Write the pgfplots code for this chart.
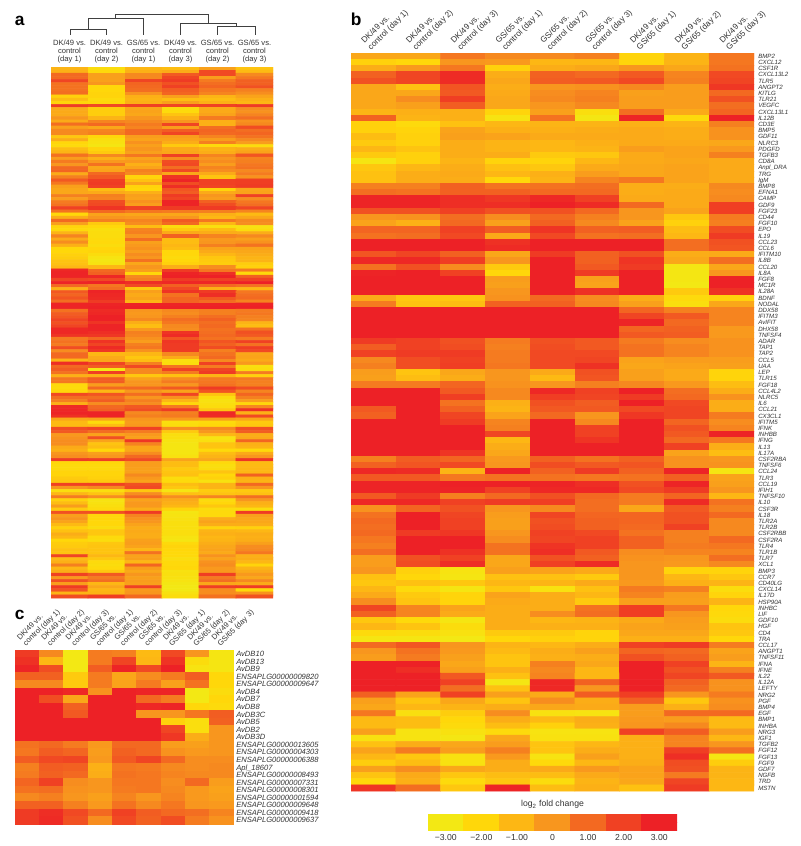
\documentclass[border=0pt]{standalone}
\usepackage{fontspec}
\setmainfont{Liberation Sans}
\usepackage{pgfplots}
\usepackage{pgfplotstable}
\pgfplotsset{compat=1.18}
\pgfplotsset{
  heatbase/.style={
    anchor=north west, scale only axis, y dir=reverse,
    colormap={heat}{rgb255=(243,232,20) rgb255=(255,215,10) rgb255=(253,183,20) rgb255=(248,150,30) rgb255=(243,105,33) rgb255=(240,65,35) rgb255=(237,33,38)},
    point meta min=-3, point meta max=3,
    axis line style={draw=none}, major tick length=0pt,
    xtick pos=upper, xticklabel pos=upper,
    tick label style={black!80},
  },
  rotlab/.style={
    xticklabels={{DK/49 vs.\\control (day 1)},{DK/49 vs.\\control (day 2)},{DK/49 vs.\\control (day 3)},{GS/65 vs.\\control (day 1)},{GS/65 vs.\\control (day 2)},{GS/65 vs.\\control (day 3)},{DK/49 vs.\\GS/65 (day 1)},{DK/49 vs.\\GS/65 (day 2)},{DK/49 vs.\\GS/65 (day 3)}},
  },
}
\begin{document}
\begin{tikzpicture}
\path[use as bounding box] (0pt,0pt) rectangle (600pt,-634.5pt);

% ---------- dendrogram ----------
\begin{axis}[at={(37.5pt,-7.5pt)}, anchor=north west, scale only axis, width=172.5pt, height=22.5pt,
  xmin=50, xmax=280, ymin=10, ymax=40, y dir=reverse, hide axis, clip=false]
\addplot[black!75, line width=0.7pt] coordinates {(70,35)(70,29.3)(106,29.3)(106,35)};
\addplot[black!75, line width=0.7pt] coordinates {(88,29.3)(88,18.3)(143,18.3)(143,35)};
\addplot[black!75, line width=0.7pt] coordinates {(115,18.3)(115,14)(208,14)(208,23.3)};
\addplot[black!75, line width=0.7pt] coordinates {(180,35)(180,23.3)(236,23.3)(236,26.7)};
\addplot[black!75, line width=0.7pt] coordinates {(217,35)(217,26.7)(255,26.7)(255,35)};
\end{axis}

% ---------- panel a ----------
\begin{axis}[heatbase, at={(38.25pt,-50.25pt)}, width=166.5pt, height=398.25pt,
  xmin=-0.5, xmax=5.5, ymin=-0.5, ymax=170.5, ytick=\empty,
  xtick={0,1,2,3,4,5},
  xticklabels={{DK/49 vs.\\control\\(day 1)},{DK/49 vs.\\control\\(day 2)},{GS/65 vs.\\control\\(day 1)},{DK/49 vs.\\control\\(day 3)},{GS/65 vs.\\control\\(day 2)},{GS/65 vs.\\control\\(day 3)}},
  xticklabel style={font=\fontsize{5.7}{6.2}\selectfont, align=center, anchor=south, yshift=1.5pt, inner ysep=1pt},
]
\addplot[matrix plot*, mesh/cols=6, point meta=explicit] table[row sep=crcr, header=false, x expr={mod(\coordindex,6)}, y expr={floor((\coordindex+0.5)/6)}, meta index=0] {
-0.9\\-2.3\\-1\\-1.2\\-0.3\\-1.4\\
-0.8\\-2.1\\-0.8\\-0.6\\1.8\\-1.1\\
1\\-0.3\\0.3\\1.4\\1.8\\0.3\\
1\\-0.3\\0.3\\1.9\\-0.2\\0.7\\
1.9\\-0.3\\1.9\\2.2\\0.6\\1.2\\
0.8\\0\\1.1\\1.6\\0.9\\1.2\\
0.8\\-2\\1\\2\\1.1\\1.6\\
0.8\\-2\\0.9\\1.3\\0.7\\0.5\\
0.9\\-1.9\\0.1\\1.1\\0.4\\0.2\\
-1.8\\-1.9\\-0.8\\-0.3\\-0.9\\-0.4\\
-1.2\\-2.2\\-0.9\\-1.2\\-1.2\\-0.8\\
-1.9\\-2\\-0.8\\-0.3\\-0.8\\-1\\
2.2\\1.8\\2\\1.9\\2\\2.2\\
-0.6\\-1.7\\-0.5\\-2.3\\-0.6\\0.2\\
-0.6\\-1.7\\-0.4\\-2.2\\-0.6\\0.1\\
-0.6\\-1.7\\-0.5\\-1.4\\-0.4\\0.4\\
0\\-0.9\\0\\-0.8\\0.6\\0.9\\
-0.6\\0.4\\0.3\\0\\-0.8\\0.1\\
0.9\\1\\0.6\\1.9\\-0.8\\0.3\\
-0.3\\-0.5\\0.4\\-0.2\\0.9\\1.7\\
0.3\\0.4\\1\\1.3\\1.1\\0.9\\
0.3\\0.5\\1\\1.9\\1\\1.1\\
-1.5\\-2\\-0.2\\-0.2\\0.4\\0.8\\
-0.7\\-2.5\\-0.4\\-0.4\\-0.2\\0.3\\
-2\\-2.6\\0.1\\-0.7\\0.5\\-0.2\\
-2.2\\-2.8\\-0.3\\-1.6\\-2.2\\-2.3\\
-1.2\\-1.9\\0\\-0.6\\-0.9\\-0.7\\
-0.9\\-1.6\\-0.3\\-0.5\\-0.7\\-0.4\\
0.8\\0.3\\0.7\\2\\0.4\\1.5\\
-0.2\\-0.8\\-0.4\\0.2\\0\\0.4\\
0.6\\-0.1\\-0.1\\1.7\\0.2\\0.5\\
0\\0.8\\-0.8\\1.8\\-0.2\\0.7\\
1\\-0.5\\-0.4\\0.9\\0.4\\0.8\\
1.1\\-0.4\\0.5\\1.8\\0.2\\0.3\\
-0.6\\1\\0.3\\-0.5\\-0.6\\0.6\\
0.5\\1.4\\-1.9\\2.4\\-1.4\\0.1\\
1.4\\2.1\\-1.3\\2.9\\2\\2.1\\
0.7\\2.2\\-0.4\\1.7\\2\\2.1\\
-0.3\\2\\-1.9\\2.6\\1.9\\2.2\\
-0.5\\-1.2\\-2\\1.5\\-1.9\\-0.5\\
-0.5\\-0.6\\-0.8\\1.3\\-0.6\\-0.4\\
0.5\\0.5\\-0.3\\2.2\\0\\2\\
-0.2\\0.4\\-0.4\\1.9\\-0.2\\0.2\\
0.6\\1.7\\0.1\\2.9\\1.2\\0.7\\
0.8\\1.8\\-0.2\\2.9\\1.7\\0.9\\
2\\2.4\\2\\2.2\\2.2\\1.9\\
0.8\\1\\0.7\\0.6\\0.5\\0.4\\
-2\\-0.4\\-0.5\\-0.5\\-0.8\\-1.1\\
-0.7\\0\\-0.1\\0\\-1\\-0.5\\
1\\0.5\\0.4\\1.4\\0.7\\0.3\\
-0.3\\-1.6\\0.2\\1\\-1\\0.2\\
-1.9\\-2\\-1.2\\-2.3\\-2.5\\-2.6\\
-2.1\\-2.4\\0.4\\-1.6\\-1.2\\-2.3\\
-0.9\\-2.3\\0.5\\-0.6\\-0.7\\-0.7\\
0.4\\-2.3\\0\\1.2\\0.4\\0.3\\
-0.6\\-2.2\\0.9\\-1.2\\-0.1\\-0.3\\
0.2\\-2.1\\-0.3\\-1.2\\0\\0.1\\
-0.8\\-2.3\\-0.1\\-1\\0.5\\0.8\\
-2\\-2\\0.1\\-1.2\\-0.4\\-0.4\\
-2\\-1.9\\-0.2\\-2\\-0.6\\-0.5\\
-1.8\\-2.3\\0.2\\-2\\-1\\-0.7\\
-1.7\\-2.7\\0\\-2.2\\-1.5\\-0.9\\
-1.4\\-2.9\\0.8\\-2\\-1.6\\-0.9\\
-1.3\\-2.7\\-0.5\\-1.8\\-1.7\\-1.7\\
-1\\-1\\0\\-0.7\\0.2\\-1.8\\
2.8\\1\\-0.3\\2.2\\0.7\\0.6\\
2.9\\1.2\\-2\\2.9\\2.6\\-2.1\\
2.9\\2.8\\0.3\\3\\3\\1.2\\
1.9\\1.8\\0.5\\2.2\\2\\2\\
2.9\\2.9\\2.6\\2.8\\2.8\\3\\
1\\0.7\\1.8\\1.2\\1\\0.8\\
-0.8\\0.9\\-1.5\\1.8\\-0.8\\-1\\
1.4\\2.9\\-0.3\\2.4\\2.2\\0.7\\
1.1\\2.8\\-0.6\\0.8\\2.6\\0.9\\
1.5\\2.7\\-0.4\\1.1\\1.4\\1\\
0.9\\2.2\\-1\\1.1\\0.9\\0.4\\
2.9\\2.9\\2.9\\2.9\\2.9\\2.9\\
2.9\\3\\3\\3\\3\\3\\
0.8\\2.7\\0\\0.3\\0.5\\0.6\\
1.3\\2.8\\-0.1\\0.2\\0.5\\0.7\\
1.5\\3\\0\\0.5\\0.9\\0.5\\
1.9\\3\\0.3\\0.9\\1.2\\0.4\\
1.6\\2.4\\-0.7\\0.7\\0.9\\-0.9\\
1.9\\2.9\\-1.2\\0.3\\1\\-1.2\\
2.8\\2.9\\-0.1\\0.2\\0.8\\0.8\\
2.8\\2.6\\0.5\\2.4\\0.9\\1.6\\
2.4\\2.3\\0.4\\2.7\\1\\1.4\\
0.6\\1\\0.1\\1.5\\0.8\\0.6\\
0.8\\2.4\\-0.2\\2.3\\1.5\\2\\
0.6\\1.9\\0.5\\2.2\\1.2\\0.8\\
1.7\\2.7\\0.7\\2.2\\1.7\\2.1\\
0.2\\2.3\\0.1\\2.2\\0.5\\1.8\\
1\\-1\\-1\\0.3\\0.8\\-0.5\\
1\\-0.6\\-1.5\\-0.6\\1\\-0.4\\
-0.9\\-0.5\\-1.2\\-2.4\\0.3\\-0.6\\
2.6\\1.9\\0.5\\-2.3\\2\\-0.1\\
1\\1.3\\1.8\\0.8\\0.6\\-2.5\\
1.3\\-3\\0.3\\2\\1.9\\-2.3\\
0.8\\2.1\\0.3\\0.6\\2.2\\0.6\\
-0.8\\-0.8\\-1.5\\-1.3\\-0.9\\-1.8\\
0.7\\1.3\\-0.4\\0.2\\0.6\\0.6\\
0.7\\1.3\\0\\0.6\\0.7\\0.5\\
-2.1\\-0.2\\0\\0\\0.8\\0.5\\
-2.2\\1\\1\\1.4\\2.2\\1.7\\
-2\\-1\\0\\-0.4\\1.5\\0.4\\
1.8\\1.5\\0.9\\1.9\\-1.4\\1.1\\
0.9\\0.9\\0\\0.1\\-2.4\\0.5\\
0.5\\1.3\\0.5\\-1\\-2.6\\-0.3\\
-0.8\\0.2\\0.2\\-2\\-2.4\\-2\\
2.7\\1\\1.4\\0.6\\-2.3\\0.3\\
2.8\\1.2\\1.7\\2.2\\-1.5\\2.5\\
2.9\\2.9\\0.3\\0.5\\2.8\\-0.8\\
2.5\\2.9\\0.5\\0.6\\2.7\\1.8\\
-0.5\\-0.4\\0\\-0.1\\-0.3\\-0.5\\
-1.1\\-2.2\\-0.2\\-2.4\\-2.2\\-1.6\\
-1.1\\-1.2\\-0.1\\-2.3\\-2\\-1.5\\
1.7\\1.9\\2\\0.2\\0.3\\1.6\\
1.4\\0.9\\0.6\\-1.6\\0\\1.3\\
-0.1\\-0.4\\-0.1\\-2.4\\-1\\-0.7\\
0.1\\1.6\\-0.3\\-2.5\\-2.7\\-0.6\\
0.2\\-0.4\\2.3\\-2.7\\-2.5\\1.1\\
0.2\\-1.4\\0.4\\-2.8\\-1.4\\-0.8\\
-0.6\\-1.2\\-0.5\\-2.8\\-1.4\\-0.9\\
-0.8\\-2\\-0.5\\-2.8\\-2.1\\-2.1\\
0\\-0.3\\0.2\\-2.8\\-1.2\\-0.6\\
0.2\\0\\1\\-2.6\\-0.9\\0\\
2.2\\2.1\\1.8\\-0.4\\-0.5\\2.4\\
-2\\-2\\-0.2\\-1.2\\-2.1\\-1.1\\
-2.2\\-2.2\\-0.2\\-1.2\\-2.4\\-1.1\\
-2.2\\-2.2\\-0.3\\-1.6\\-2.3\\-1\\
-1.9\\-1.9\\-0.3\\-1.4\\-1.4\\-1\\
-1.9\\-1.9\\0.3\\-1.3\\-2\\1.2\\
-1.6\\-1.8\\-0.1\\-2.3\\-1.8\\-0.8\\
-1.5\\-1.6\\-0.4\\-2.2\\-2.6\\-0.9\\
2\\2\\1.6\\-1.2\\-0.9\\1\\
0\\0.3\\1.8\\-1.5\\-0.9\\0\\
-2.4\\-2.4\\-1.5\\-2.8\\-1.7\\-1.6\\
-1\\-1.4\\0.2\\-1.3\\-1.4\\-1.3\\
0.6\\0.2\\1\\0.2\\0.4\\0.9\\
-1.8\\-2.7\\-0.4\\-0.6\\-2.3\\0\\
-1.2\\-2.6\\-0.1\\-0.8\\-2\\-0.8\\
-0.2\\-2.4\\-0.1\\-1\\-1.5\\-1\\
-1.6\\-2.2\\-0.7\\-1.9\\-2.3\\-2.3\\
1.6\\1.6\\2.2\\-2.8\\-2.2\\2.2\\
-0.3\\-2\\0.4\\-2.7\\-2.2\\-0.3\\
0\\-2\\0.1\\-2.6\\-0.7\\-0.5\\
-0.4\\-2\\0\\-2.5\\-0.4\\-0.5\\
-1.1\\-2\\-0.4\\-2.5\\-0.7\\-0.7\\
-1.8\\-2.3\\-0.7\\-2.5\\-1.9\\-1.8\\
-1.3\\-1.5\\-0.6\\-2.4\\-0.9\\-1\\
-0.7\\-1.5\\-0.7\\-2.4\\-0.8\\-0.7\\
-1\\-2.2\\-0.7\\-2.7\\-1\\-0.8\\
-2\\-2.3\\-0.3\\-2.8\\-0.9\\-0.7\\
-1.7\\-1.5\\-0.2\\-2.1\\-0.7\\-0.3\\
-1.6\\-1.4\\-0.4\\-1.9\\-0.5\\0.2\\
-1.3\\-1.4\\-1\\-2\\-0.4\\0.3\\
-1.4\\-1.4\\0.8\\-2.1\\-0.6\\0.7\\
1.9\\-1\\-0.4\\-2.1\\0.1\\-0.8\\
-1.1\\-1.5\\-0.3\\-2.4\\-0.4\\-0.7\\
-0.8\\-2.2\\-1\\-2.1\\0.1\\-1\\
0.5\\-2.3\\1.1\\-2.1\\0.2\\-1.9\\
-1\\-2.1\\-0.2\\-2\\-0.1\\-0.9\\
-0.7\\-1.5\\-0.5\\-2.6\\-0.1\\-0.6\\
2\\1.4\\0\\-2.5\\2.1\\-0.1\\
-0.1\\0.6\\-0.3\\-2.6\\0.6\\-0.5\\
1.6\\0.9\\-0.2\\-2.7\\0.9\\0.3\\
-0.2\\-1\\-0.3\\-2.9\\-0.5\\-0.6\\
2.2\\-0.5\\2\\-3\\2.1\\2.2\\
1.5\\-1\\-0.1\\-3\\0.2\\-2.1\\
-0.9\\-0.9\\0\\-2.6\\0.2\\0.1\\
1.7\\2.1\\1\\-2.3\\0.8\\1.6\\
};
\end{axis}

% ---------- panel b ----------
\begin{axis}[heatbase, rotlab, at={(263.25pt,-39.75pt)}, width=302.25pt, height=553.5pt,
  xmin=-0.5, xmax=8.5, ymin=-0.5, ymax=118.5,
  xtick={0,1,2,3,4,5,6,7,8},
  xticklabel style={font=\fontsize{6.2}{7}\selectfont, align=left, rotate=45, anchor=south west, inner sep=0pt, xshift=0pt, yshift=1pt},
  ytick={0,...,118}, ytick pos=right, yticklabel pos=right,
  yticklabels={BMP2,CXCL12,CSF1R,CXCL13L2,TLR5,ANGPT2,KITLG,TLR21,VEGFC,CXCL13L1,IL12B,CD3E,BMP5,GDF11,NLRC3,PDGFD,TGFB3,CD8A,Anpl\_DRA,TRG,IgM,BMP8,EFNA1,CAMP,GDF9,FGF23,CD44,FGF10,EPO,IL19,CCL23,CCL6,IFITM10,IL8B,CCL20,IL8A,FGF8,MC1R,IL28A,BDNF,NODAL,DDX58,IFITM3,AvIFIT,DHX58,TNFSF4,ADAR,TAP1,TAP2,CCL5,UAA,LEP,TLR15,FGF18,CCL4L2,NLRC5,IL6,CCL21,CX3CL1,IFITM5,IFNK,INHBB,IFNG,IL13,IL17A,CSF2RBA,TNFSF6,CCL24,TLR3,CCL19,IFIH1,TNFSF10,IL10,CSF3R,IL18,TLR2A,TLR2B,CSF2RBB,CSF2RA,TLR4,TLR1B,TLR7,XCL1,BMP3,CCR7,CD40LG,CXCL14,IL17D,HSP90A,INHBC,LIF,GDF10,HGF,CD4,TRA,CCL17,ANGPT1,TNFSF11,IFNA,IFNE,IL22,IL12A,LEFTY,NRG2,PGF,BMP4,EGF,BMP1,INHBA,NRG3,IGF1,TGFB2,FGF12,FGF13,FGF9,GDF7,NGFB,TRD,MSTN},
  yticklabel style={font=\fontsize{4.6}{5}\selectfont\itshape, anchor=west, inner xsep=0pt, inner ysep=0pt, xshift=3pt, text height=3.3pt, text depth=0pt},
]
\addplot[matrix plot*, mesh/cols=9, point meta=explicit] table[row sep=crcr, header=false, x expr={mod(\coordindex,9)}, y expr={floor((\coordindex+0.5)/9)}, meta index=0] {
-0.5\\-0.5\\0.7\\0.3\\0.3\\0.5\\-1.9\\-0.9\\0.7\\
-1.8\\-2\\0\\-0.1\\-1\\-1\\-1.9\\-0.9\\0.7\\
-0.7\\-0.1\\0.7\\-1.8\\-0.7\\-0.5\\0\\-0.5\\0.8\\
1.2\\1.9\\2.7\\-0.7\\1.2\\1\\1.4\\0.4\\1.8\\
1.6\\1.9\\2.7\\-0.5\\1.3\\1.4\\1.8\\0.5\\1.9\\
-0.5\\-1.3\\1.5\\-0.7\\0\\0.1\\0.3\\-0.2\\2.3\\
-0.5\\-0.5\\1.4\\-0.6\\0.2\\0.4\\-0.3\\-0.2\\1\\
-0.5\\0.2\\2.1\\-0.5\\0.3\\0.5\\-0.2\\-0.2\\1.6\\
-0.5\\-0.3\\1.3\\-0.5\\0\\0.3\\-0.2\\-0.2\\0.9\\
-0.9\\-0.8\\-0.8\\-1.9\\-0.3\\-2.4\\0.9\\-0.6\\1.1\\
1.2\\-0.9\\-0.8\\-2.7\\0.8\\-2.9\\2.9\\-2.2\\3\\
-1.8\\-2.2\\-1.3\\-1\\-0.9\\-0.9\\-0.8\\-0.9\\0.5\\
-1.8\\-1.9\\-0.4\\-0.8\\-0.8\\-0.7\\-0.6\\-0.7\\0.1\\
-1.2\\-1.8\\-0.3\\-0.4\\-0.6\\-0.6\\-0.6\\-0.7\\0.1\\
-1.6\\-1.8\\-0.7\\-0.9\\-1\\-0.8\\-0.6\\-0.6\\-0.5\\
-1\\-1.4\\-0.7\\-0.9\\-1\\-0.9\\-0.2\\-0.4\\-0.1\\
-1.6\\-1.8\\-0.7\\-0.7\\-1.6\\-1.5\\-0.6\\-0.4\\0.5\\
-2.8\\-1.8\\-0.9\\-1.9\\-1.9\\-1\\-0.6\\-0.5\\-0.6\\
-1.5\\-1\\-0.7\\-1.3\\-1.5\\-0.6\\-0.5\\-0.4\\-0.6\\
-1.3\\-0.7\\-0.6\\-1\\-0.8\\-0.2\\-0.5\\-0.4\\-0.6\\
-1.3\\-0.7\\-0.7\\-2\\-0.9\\0.4\\0.7\\-0.4\\-0.6\\
0.5\\0.5\\1.2\\0.8\\0.8\\0.9\\-0.7\\-0.7\\0.3\\
0.9\\0.8\\1.2\\1.2\\1\\1\\-0.7\\-0.6\\0.2\\
2.9\\2.9\\2.6\\2.3\\2.8\\2\\-0.6\\-0.6\\0.3\\
2.9\\2.9\\2.6\\2.6\\3\\2.7\\1\\-0.6\\2.1\\
1.6\\1.6\\2\\1.6\\1.6\\1\\0\\-0.4\\2.1\\
0\\0.1\\0.9\\0.2\\1\\0.5\\0\\-1.5\\0.6\\
-0.4\\-0.8\\1\\-0.3\\1.2\\0.3\\-0.4\\-1.8\\0.5\\
1.1\\1.1\\2\\1.3\\2.4\\1.2\\1.3\\-1.2\\1.7\\
0.8\\0.9\\1.8\\-0.6\\1.8\\0.8\\0.9\\-1\\2.2\\
3\\3\\3\\2.5\\3\\3\\3\\0.9\\1.6\\
3\\3\\3\\2.7\\3\\3\\3\\0.9\\1.5\\
1.5\\1.9\\1.2\\-0.5\\2.2\\1.2\\1.6\\-0.7\\-0.6\\
2.8\\2.8\\2.1\\0\\3\\1.2\\2.4\\-0.5\\0.9\\
0.8\\1.6\\0.2\\-1.6\\3\\1.4\\2.2\\-2.9\\-0.5\\
2.9\\3\\2\\-2\\3\\2.2\\3\\-2.9\\0\\
3\\3\\3\\-0.2\\3\\-0.3\\3\\-2.9\\3\\
3\\3\\3\\-0.3\\3\\-0.4\\3\\-3\\3\\
3\\3\\3\\0\\3\\2.5\\3\\-1.6\\2.5\\
-0.6\\-1.5\\-1.5\\0.1\\1\\0.2\\-0.7\\-2.2\\-1.8\\
0.6\\-1.3\\-1.2\\1.2\\1.2\\0.3\\-0.3\\-2.4\\-0.5\\
3\\3\\3\\3\\3\\3\\1.1\\0.5\\0.4\\
3\\3\\3\\3\\3\\3\\1.9\\1.4\\0.4\\
3\\3\\3\\3\\3\\3\\2.9\\1\\0.4\\
3\\3\\3\\3\\3\\3\\1.1\\1.2\\-0.1\\
3\\3\\3\\3\\3\\3\\1.4\\1.3\\-0.1\\
2.2\\2\\1.6\\0.6\\1.6\\1.4\\0.6\\0.2\\0.1\\
1.3\\2\\1.7\\0.5\\1.7\\1.4\\0.8\\0.4\\0.1\\
2\\2.2\\2.2\\0.6\\1.8\\1.8\\0.8\\0.4\\0.1\\
0.3\\1.7\\2\\0.6\\1.8\\1.9\\-0.4\\-0.2\\-0.2\\
0.5\\1.7\\2.1\\0.7\\1.8\\2.5\\-0.5\\-0.4\\-0.3\\
-0.2\\-1.4\\-0.5\\0\\-0.6\\1.6\\-0.3\\-0.6\\-1.9\\
-0.3\\-1.2\\-0.7\\0\\-1.1\\1.5\\-0.3\\-0.6\\-1.9\\
0.6\\0.6\\1.1\\0.1\\0\\0.5\\0.3\\-0.1\\-1.2\\
3\\3\\1.4\\0.3\\2.8\\2\\3\\0.9\\-0.7\\
3\\3\\2.1\\0.3\\2.1\\1.9\\2.2\\1\\0.1\\
3\\3\\0.8\\-0.8\\1.6\\1.3\\3\\1.8\\-0.7\\
1.4\\3\\1.2\\-0.9\\1.4\\1.4\\1.8\\1.9\\-0.7\\
1.2\\3\\1.9\\-0.4\\1\\0\\2.3\\1.9\\0.6\\
3\\3\\2.2\\0.4\\3\\0.3\\3\\1.1\\0.2\\
3\\3\\3\\0.5\\3\\2\\3\\1.6\\0.4\\
3\\3\\3\\1.9\\3\\2\\3\\1.4\\2.9\\
3\\3\\3\\-1\\3\\2.4\\3\\1\\0.7\\
3\\3\\3\\-0.7\\3\\3\\3\\2\\-0.7\\
3\\3\\2.4\\-0.5\\3\\3\\3\\-0.4\\-1.2\\
0.5\\1.3\\1.1\\-0.1\\1.2\\0.8\\1.2\\0.1\\0\\
1.2\\1.5\\1.8\\0\\1.7\\1.4\\1.5\\0.1\\0.1\\
2.8\\2.7\\-0.9\\3\\1.2\\2.2\\1.2\\2.9\\-2.8\\
1.4\\1.4\\0.7\\0.8\\0.8\\0.7\\0.8\\1.2\\-0.4\\
2.9\\2.9\\3\\3\\2.9\\2.6\\1.6\\2.9\\-0.3\\
2.9\\2.9\\2.9\\2\\2.8\\2.8\\1.8\\2.2\\0\\
1.4\\2.2\\0.5\\1\\1.6\\1\\0.6\\1.1\\-1\\
2.8\\2.8\\2\\2.2\\2.1\\0.9\\0.6\\2.7\\0.8\\
0.1\\1.1\\1.6\\0\\0.3\\0.9\\-0.5\\1.4\\0.5\\
0.8\\3\\1.9\\-0.2\\1.9\\1.1\\1.1\\1.6\\1\\
1\\3\\2\\-0.3\\1.6\\1.2\\1.1\\1.6\\0.3\\
0.9\\3\\2\\-0.3\\1.7\\1.2\\1\\2\\0.3\\
1\\2.2\\2.3\\0\\2\\1.8\\0.8\\0.5\\0.3\\
0.7\\3\\3\\0.2\\1.9\\2\\1.2\\0.5\\1\\
0.5\\3\\3\\0.8\\2.4\\2\\1.2\\0.6\\0.7\\
0.9\\3\\2.5\\0.8\\2.6\\1.4\\0.2\\0.4\\0.4\\
-0.2\\1.6\\2\\-0.5\\1.6\\1.2\\0.1\\0\\0.9\\
-0.2\\1.7\\2.6\\-0.5\\2\\2.7\\0\\-0.1\\0.3\\
0\\-1.8\\-2.7\\-0.3\\-0.4\\-0.6\\0\\-1.9\\-1.9\\
-1.3\\-2\\-2.8\\-1.3\\-1.3\\-1.6\\0\\-1\\-1.5\\
-1.5\\-1.3\\-1.5\\-1\\-0.9\\-0.6\\-0.1\\-0.8\\-0.9\\
-1\\-2.2\\-2.8\\-1.5\\-2.6\\-1.3\\0.6\\0.5\\-2.3\\
-0.6\\-1.6\\-1.9\\-0.4\\-0.7\\-1\\0.4\\-0.2\\-1.9\\
0.2\\-1.4\\-1.9\\-0.6\\-0.7\\-1.6\\-0.3\\-0.3\\-0.9\\
1.9\\0.4\\-0.4\\-0.7\\-0.7\\0.8\\2.1\\0.7\\-2\\
1.2\\0.4\\-0.6\\-0.7\\0.2\\0.9\\2.1\\0\\-2.1\\
-1.5\\-2.1\\-2.8\\-0.7\\-1\\-0.9\\-0.6\\-0.2\\-2.3\\
-1\\-1.4\\-2.3\\-0.7\\-0.8\\-0.8\\-0.4\\-0.3\\-1.4\\
-2.2\\-2.3\\-2.6\\-1.6\\-1.6\\-1.9\\-0.5\\-0.5\\-1.5\\
-2.8\\-2.8\\-3\\-2\\-1.8\\-1.9\\-0.8\\-0.8\\-2\\
1\\1.5\\0\\-0.9\\-1\\-0.7\\2\\2.2\\0.6\\
0\\0.8\\-0.1\\-1.1\\-0.7\\-0.3\\1.1\\1\\-0.4\\
-0.2\\0.6\\-0.3\\-1.4\\-0.8\\-0.7\\1.6\\1.2\\-0.2\\
3\\3\\-0.5\\-1.4\\0.5\\-0.5\\3\\2\\-0.9\\
3\\2.6\\-0.3\\-0.8\\0.3\\-1\\3\\1.6\\0.5\\
3\\3\\1.4\\-1.3\\0.4\\-1\\3\\1.9\\1.4\\
3\\3\\2\\-2.9\\2.8\\1.2\\3\\1.2\\0.1\\
3\\3\\0.9\\-1.3\\2.8\\0\\3\\1\\0.1\\
1.2\\-0.4\\2\\-0.3\\-0.6\\1.3\\2.1\\0\\0.6\\
-0.3\\-1.4\\-0.5\\-1.4\\0.2\\-0.7\\1.2\\-1.5\\0.1\\
-0.5\\-1\\-0.9\\-0.7\\-0.5\\-0.6\\-0.2\\-0.8\\0.2\\
0.7\\-2.5\\-1.7\\0.2\\-2.6\\-2.7\\-0.2\\1\\1\\
-1.1\\-1.2\\-2\\-0.7\\-1.1\\-0.7\\-0.1\\-0.2\\-1.1\\
-1.1\\-1.2\\-2.2\\-1.2\\-1.8\\-0.8\\0\\0.3\\-1.1\\
-0.3\\-2.7\\-2.6\\-2.2\\-2.7\\-2.7\\2\\1.3\\-0.2\\
-2.6\\-2.7\\-2.9\\-0.5\\-2.6\\-2.6\\-0.8\\0.4\\-1\\
-1.3\\-0.7\\-0.5\\-0.2\\-1.4\\-1\\-0.8\\0.4\\0\\
-0.4\\0.6\\-0.2\\0.5\\-1.4\\-0.7\\-0.8\\2.1\\0.9\\
-1\\-1.5\\-2.6\\-0.1\\-2.7\\-0.3\\-0.8\\2.6\\-2.8\\
-1.7\\-1.2\\-2.6\\-0.7\\-2.1\\-1\\-0.7\\1.7\\-1.7\\
-0.3\\0.2\\-0.5\\-0.7\\-0.6\\-0.1\\-0.4\\1.6\\-0.9\\
-1.4\\-0.6\\-1.5\\-1.2\\-1.2\\-0.6\\-0.4\\0.6\\-0.9\\
-2\\-0.8\\-2.2\\-1.5\\-2.3\\-0.9\\-0.5\\1.9\\-1\\
2.4\\0.9\\-1.5\\2.9\\-1.2\\-0.8\\-1.3\\2.2\\-1\\
};
\end{axis}

% ---------- panel c ----------
\begin{axis}[heatbase, rotlab, at={(11.25pt,-487.5pt)}, width=164.25pt, height=130.5pt,
  xmin=-0.5, xmax=8.5, ymin=-0.5, ymax=22.5,
  xtick={0,1,2,3,4,5,6,7,8},
  xticklabel style={font=\fontsize{5.7}{6.4}\selectfont, align=left, rotate=45, anchor=south west, inner sep=0pt, xshift=1pt, yshift=1pt},
  ytick={0,...,22}, ytick pos=right, yticklabel pos=right,
  yticklabels={AvDB10,AvDB13,AvDB9,ENSAPLG00000009820,ENSAPLG00000009647,AvDB4,AvDB7,AvDB8,AvDB3C,AvDB5,AvDB2,AvDB3D,ENSAPLG00000013605,ENSAPLG00000004303,ENSAPLG00000006388,Apl\_18607,ENSAPLG00000008493,ENSAPLG00000007331,ENSAPLG00000008301,ENSAPLG00000001594,ENSAPLG00000009648,ENSAPLG00000009418,ENSAPLG00000009637},
  yticklabel style={font=\fontsize{5.7}{6}\selectfont\itshape, anchor=west, inner xsep=0pt, inner ysep=0pt, xshift=1.5pt, text height=4.1pt, text depth=0pt},
]
\addplot[matrix plot*, mesh/cols=9, point meta=explicit] table[row sep=crcr, header=false, x expr={mod(\coordindex,9)}, y expr={floor((\coordindex+0.5)/9)}, meta index=0] {
2.2\\0.3\\-3\\0.6\\0.5\\-1.1\\1.8\\0\\-2.8\\
2.5\\-1\\-3\\0.6\\1.9\\-1\\2.4\\-2.3\\-2.8\\
2.9\\1.7\\-3\\1.3\\2.9\\1.8\\3\\-2.7\\-2.8\\
1.2\\1.2\\-1.6\\0.6\\-0.5\\0.2\\0.6\\1.3\\-2\\
0.3\\0.3\\-1.6\\0.6\\-0.4\\0.6\\-0.3\\0.8\\-2\\
3\\3\\2.8\\0.1\\3\\2.9\\2.9\\-3\\-2.3\\
3\\1.7\\-0.5\\3\\3\\1\\0.6\\-3\\-2\\
3\\3\\1.2\\3\\3\\2.8\\2.9\\-2\\-2.2\\
3\\3\\1.4\\3\\3\\0\\0\\0.7\\1.3\\
3\\3\\3\\3\\3\\3\\-1.8\\-2.4\\1.2\\
3\\3\\3\\3\\3\\3\\1.9\\-2.4\\0\\
3\\3\\3\\3\\3\\3\\2.3\\-0.7\\0\\
0.8\\1\\0.6\\-0.1\\1\\1\\-0.2\\-0.3\\0\\
0.7\\1.3\\1.1\\-0.2\\1.2\\1\\0.1\\-0.1\\0\\
1.3\\1.8\\1.9\\-0.1\\1.4\\1.9\\1\\0.2\\0.2\\
0.5\\1.3\\1.2\\-0.8\\0.7\\0.6\\0.3\\0.2\\0.3\\
0.6\\1.2\\1\\-0.7\\0.8\\0.7\\0.4\\0.3\\0.3\\
1.1\\2\\0.2\\0\\0.7\\0.7\\0.2\\1\\-0.2\\
0.8\\0.9\\0.1\\0\\0.6\\0.7\\0.3\\-0.1\\-0.4\\
0.3\\0.5\\0\\-0.3\\0.4\\0\\0.4\\-0.1\\-0.3\\
1.2\\1.2\\0.5\\-0.1\\0.8\\0.3\\0.7\\0\\-0.1\\
2.2\\2.6\\1.8\\1\\2\\1.3\\1\\0.9\\0.4\\
2.2\\2.7\\1.6\\0.2\\1.8\\1.2\\1.7\\0.6\\0.1\\
};
\end{axis}

% ---------- colour key ----------
\begin{axis}[heatbase, at={(321pt,-610.5pt)}, width=186.75pt, height=12pt,
  xmin=-3.5, xmax=3.5, ymin=-0.5, ymax=1.5, ytick=\empty,
  xtick pos=lower, xticklabel pos=lower,
  xtick={-3,-2,-1,0,1,2,3},
  xticklabels={−3.00,−2.00,−1.00,0,1.00,2.00,3.00},
  xticklabel style={font=\fontsize{6.5}{7}\selectfont, inner ysep=1pt, yshift=-2pt},
  title={log\textsubscript{2} fold change},
  title style={font=\fontsize{6.5}{7}\selectfont, black!80, inner ysep=0pt, yshift=-2pt},
]
\addplot[matrix plot*, mesh/cols=7, point meta=explicit] table[row sep=crcr, header=false, x expr={mod(\coordindex,7)-3}, y expr={floor((\coordindex+0.5)/7)}, meta index=0] {
-3\\-2\\-1\\0\\1\\2\\3\\
-3\\-2\\-1\\0\\1\\2\\3\\
};
\end{axis}

% ---------- panel letters ----------
\node[anchor=base west, inner sep=0pt, font=\fontsize{13}{13}\selectfont\bfseries] at (11pt,-18.75pt) {a};
\node[anchor=base west, inner sep=0pt, font=\fontsize{13}{13}\selectfont\bfseries] at (263pt,-18.75pt) {b};
\node[anchor=base west, inner sep=0pt, font=\fontsize{13}{13}\selectfont\bfseries] at (11pt,-464.25pt) {c};
\end{tikzpicture}
\end{document}
